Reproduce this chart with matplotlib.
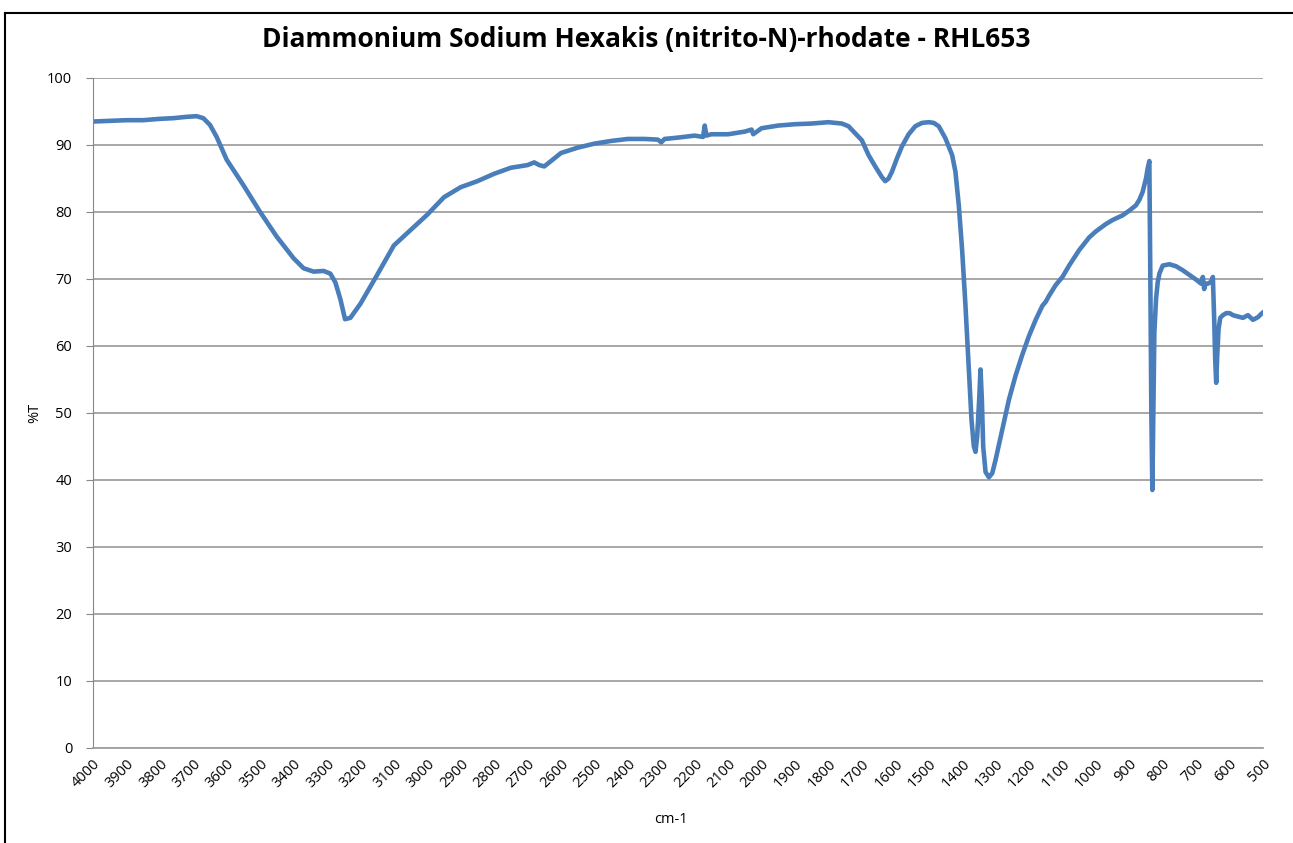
import matplotlib.pyplot as plt
from matplotlib.lines import Line2D

# IR spectrum
wavenumber = [4000, 3950, 3900, 3850, 3800, 3760, 3720, 3690, 3670, 3650, 3630,
              3600, 3550, 3500, 3450, 3400, 3370, 3340, 3310, 3290, 3275, 3260,
              3246, 3230, 3200, 3150, 3100, 3050, 3000, 2950, 2900, 2850, 2800,
              2750, 2700, 2680, 2665, 2650, 2600, 2550, 2500, 2450, 2400, 2350,
              2310, 2300, 2290, 2250, 2200, 2175, 2170, 2165, 2150, 2100, 2050,
              2030, 2025, 2000, 1950, 1900, 1850, 1800, 1760, 1740, 1700, 1680,
              1660, 1640, 1630, 1620, 1610, 1595, 1580, 1560, 1540, 1520, 1500,
              1485, 1470, 1450, 1430, 1420, 1410, 1400, 1390, 1380, 1372, 1365,
              1360, 1355, 1349, 1345, 1341, 1337, 1330, 1320, 1310, 1300, 1280,
              1260, 1240, 1220, 1200, 1180, 1160, 1150, 1140, 1120, 1100, 1080,
              1050, 1020, 1000, 970, 950, 920, 900, 880, 870, 860, 850, 845, 840,
              837, 834, 831, 828, 825, 820, 815, 810, 800, 780, 760, 740, 720,
              700, 685, 680, 676, 672, 665, 655, 650, 646, 643, 640, 637, 633,
              628, 620, 610, 600, 590, 575, 560, 545, 530, 515, 505, 500]
transmittance = [93.5, 93.6, 93.7, 93.7, 93.9, 94.0, 94.2, 94.3, 94.0, 93.0, 91.2,
                 87.8, 84.0, 80.0, 76.3, 73.1, 71.6, 71.1, 71.2, 70.8, 69.5, 67.0,
                 64.0, 64.2, 66.3, 70.6, 75.0, 77.3, 79.6, 82.2, 83.7, 84.6, 85.7,
                 86.6, 87.0, 87.4, 87.0, 86.8, 88.8, 89.6, 90.2, 90.6, 90.9, 90.9,
                 90.8, 90.4, 90.9, 91.1, 91.4, 91.2, 92.9, 91.4, 91.6, 91.6, 92.0,
                 92.3, 91.6, 92.5, 92.9, 93.1, 93.2, 93.4, 93.2, 92.8, 90.7, 88.5,
                 86.8, 85.2, 84.6, 85.0, 86.0, 88.0, 89.8, 91.6, 92.8, 93.3, 93.4,
                 93.3, 92.8, 91.0, 88.5, 86.0, 81.0, 74.3, 66.0, 56.4, 49.0, 45.0,
                 44.2, 46.5, 52.0, 56.5, 52.0, 45.0, 41.2, 40.4, 41.0, 43.0, 47.5,
                 52.0, 55.6, 58.7, 61.5, 63.9, 66.0, 66.6, 67.5, 69.1, 70.3, 72.0,
                 74.3, 76.2, 77.1, 78.2, 78.8, 79.5, 80.2, 81.0, 81.8, 83.0, 85.0,
                 86.5, 87.6, 70.0, 50.0, 38.5, 50.0, 62.0, 67.0, 69.5, 70.8, 72.0,
                 72.2, 71.9, 71.3, 70.6, 69.9, 69.3, 70.3, 68.5, 69.3, 69.3, 69.6,
                 70.3, 64.0, 58.0, 54.5, 58.5, 62.5, 64.2, 64.6, 64.9, 64.9, 64.6,
                 64.4, 64.2, 64.6, 63.9, 64.3, 64.8, 65.0]

x_ticks = list(range(4000, 499, -100))
y_ticks = list(range(0, 101, 10))

fig = plt.figure(figsize=(12.93, 8.43), dpi=100)
fig.patch.set_facecolor('white')
plt.rcParams['font.family'] = ['Open Sans', 'DejaVu Sans']

# frame of the screenshot
fig.add_artist(Line2D([0.004, 0.004], [0.0, 0.985], color='black', lw=1.5))
fig.add_artist(Line2D([0.004, 1.0], [0.985, 0.985], color='black', lw=1.5))

ax = fig.add_axes([0.0719, 0.1127, 0.9049, 0.7948])
ax.plot(wavenumber, transmittance, color='#4a7ebb', lw=3.3, solid_joinstyle='round')
ax.set_xlim(4000, 500)
ax.set_ylim(0, 100)
ax.set_xticks(x_ticks)
ax.set_xticklabels([str(t) for t in x_ticks], rotation=45, ha='right',
                   rotation_mode='anchor', fontsize=10.5)
ax.set_yticks(y_ticks)
ax.tick_params(axis='y', labelsize=10.5, length=5, color='#888888', pad=10)
ax.tick_params(axis='x', length=0, pad=6)
ax.grid(axis='y', color='#a0a0a0', lw=1.3)
ax.set_axisbelow(True)
for side in ['top', 'right']:
    ax.spines[side].set_visible(False)
ax.spines['left'].set_color('#888888')
ax.spines['bottom'].set_color('#a0a0a0')
ax.spines['bottom'].set_linewidth(1.3)

fig.text(0.5, 0.953, 'Diammonium Sodium Hexakis (nitrito-N)-rhodate - RHL653',
         fontsize=19, fontweight='bold', ha='center', va='center')
ax.set_ylabel('%T', fontsize=10.5)
ax.yaxis.set_label_coords(-0.043, 0.5)
ax.set_xlabel('cm-1', fontsize=10.5)
ax.xaxis.set_label_coords(0.494, -0.096)

fig.savefig('out.png', dpi=100)
